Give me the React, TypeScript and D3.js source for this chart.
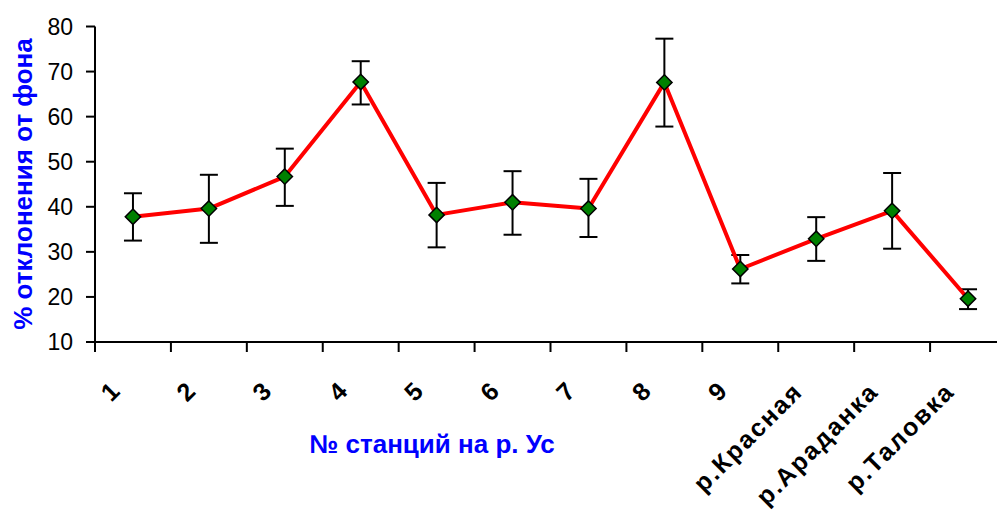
import * as d3 from "d3";

const stations = ["1", "2", "3", "4", "5", "6", "7", "8", "9", "р.Красная", "р.Араданка", "р.Таловка"];
const meanValues = [37.8, 39.6, 46.7, 67.7, 38.2, 41.0, 39.6, 67.6, 26.2, 32.9, 39.1, 19.6];
const upperValues = [43.0, 47.1, 52.9, 72.3, 45.3, 47.9, 46.2, 77.3, 29.3, 37.7, 47.5, 21.7];
const lowerValues = [32.5, 32.0, 40.2, 62.7, 31.0, 33.8, 33.3, 57.8, 23.0, 28.0, 30.7, 17.3];
const yTicks = [10, 20, 30, 40, 50, 60, 70, 80];

const W = 997;
const H = 512;
const left = 95;
const right = 1006;
const top = 26.5;
const bottom = 342;

export default function App() {
  const x = d3.scaleBand<string>().domain(stations).range([left, right]);
  const y = d3.scaleLinear().domain([10, 80]).range([bottom, top]);
  const cx = (i: number) => (x(stations[i]) as number) + x.bandwidth() / 2;

  const line = d3
    .line<number>()
    .x((_, i) => cx(i))
    .y((d) => y(d));

  const boundaries = stations.map((s) => x(s) as number).concat([right]);
  const font = "Arial, 'Liberation Sans', sans-serif";

  return (
    <svg
      width={W}
      height={H}
      style={{ position: "absolute", left: 0, top: 0, background: "#fff" }}
      fontFamily={font}
    >
      {/* y axis */}
      <line x1={left} x2={left} y1={top} y2={bottom} stroke="#000" strokeWidth={2} />
      {yTicks.map((t) => (
        <g key={t}>
          <line x1={left - 9} x2={left} y1={y(t)} y2={y(t)} stroke="#000" strokeWidth={2} />
          <text x={73} y={y(t)} dy="0.36em" textAnchor="end" fontSize={23} fill="#000">
            {t}
          </text>
        </g>
      ))}
      <text
        transform={`translate(32,${184}) rotate(-90)`}
        textAnchor="middle"
        fontSize={26}
        fontWeight="bold"
        fill="#0000ff"
      >
        % отклонения от фона
      </text>

      {/* x axis */}
      <line x1={left} x2={right} y1={bottom} y2={bottom} stroke="#000" strokeWidth={2} />
      {boundaries.map((b, i) => (
        <line key={i} x1={b} x2={b} y1={bottom} y2={bottom + 10} stroke="#000" strokeWidth={2} />
      ))}
      {stations.map((s, i) => (
        <text
          key={s}
          transform={`translate(${cx(i) - 12},${393}) rotate(-45)`}
          textAnchor="end"
          fontSize={25}
          fontWeight="bold"
          letterSpacing={s.length > 1 ? 2 : 0}
          fill="#000"
        >
          {s}
        </text>
      ))}
      <text x={432} y={453} textAnchor="middle" fontSize={26} fontWeight="bold" fill="#0000ff">
        № станций на р. Ус
      </text>

      {/* error bars */}
      {meanValues.map((_, i) => (
        <g key={i} stroke="#000" strokeWidth={2}>
          <line x1={cx(i)} x2={cx(i)} y1={y(upperValues[i])} y2={y(lowerValues[i])} />
          <line x1={cx(i) - 9} x2={cx(i) + 9} y1={y(upperValues[i])} y2={y(upperValues[i])} />
          <line x1={cx(i) - 9} x2={cx(i) + 9} y1={y(lowerValues[i])} y2={y(lowerValues[i])} />
        </g>
      ))}

      {/* series line */}
      <path d={line(meanValues) || ""} fill="none" stroke="#ff0000" strokeWidth={4} strokeLinejoin="round" />

      {/* markers */}
      {meanValues.map((v, i) => (
        <path
          key={i}
          d={d3.symbol(d3.symbolDiamond2, 150)() || ""}
          transform={`translate(${cx(i)},${y(v)})`}
          fill="#008000"
          stroke="#000"
          strokeWidth={1.5}
        />
      ))}
    </svg>
  );
}
